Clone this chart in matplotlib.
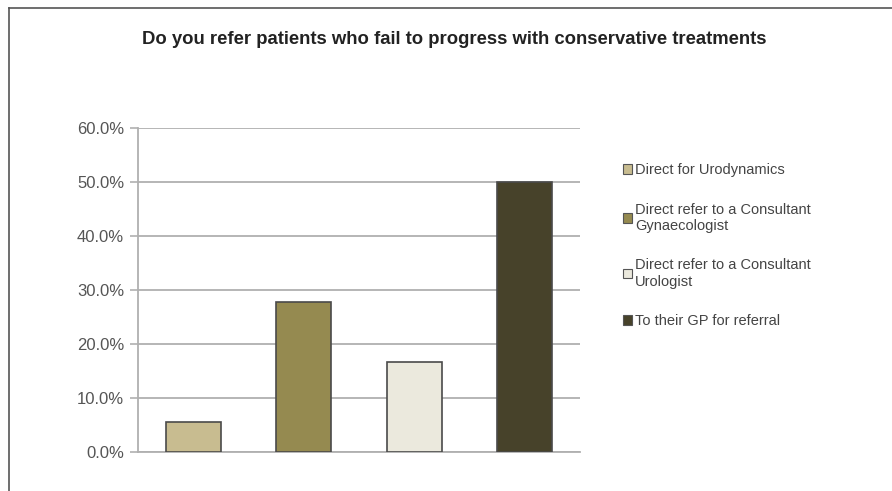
import matplotlib.pyplot as plt
from matplotlib.lines import Line2D
from matplotlib.patches import Patch

plt.rcParams["font.family"] = ["Liberation Sans", "DejaVu Sans"]

title = "Do you refer patients who fail to progress with conservative treatments"
categories = [
    "Direct for Urodynamics",
    "Direct refer to a Consultant\nGynaecologist",
    "Direct refer to a Consultant\nUrologist",
    "To their GP for referral",
]
values = [5.6, 27.8, 16.7, 50.0]
colors = ["#c8bc90", "#958a50", "#ebe9dd", "#47422a"]
yticks = [0, 10, 20, 30, 40, 50, 60]

fig = plt.figure(figsize=(8.92, 4.91), dpi=100)
ax = fig.add_axes([138 / 892, 1 - 452 / 491, 442 / 892, 324 / 491])

x = list(range(len(values)))
ax.bar(x, values, width=0.5, color=colors, edgecolor="#4a4a4a", linewidth=1.2, zorder=3)

ax.set_xlim(-0.5, 3.5)
ax.set_ylim(0, 60)
ax.set_yticks(yticks)
ax.set_yticklabels([f"{v:.1f}%" for v in yticks], fontsize=12, color="#555555")
ax.set_xticks([])
ax.yaxis.grid(True, color="#b0b0b0", linewidth=1.3, zorder=0)
ax.tick_params(axis="y", length=6, width=1.2, color="#b0b0b0", pad=4)
for side in ["top", "right"]:
    ax.spines[side].set_visible(False)
ax.spines["left"].set_color("#b0b0b0")
ax.spines["left"].set_linewidth(1.3)
ax.spines["bottom"].set_color("#b0b0b0")
ax.spines["bottom"].set_linewidth(1.3)

handles = [Patch(facecolor=c, edgecolor="#555555", linewidth=0.8) for c in colors]
fig.legend(handles, categories, loc="upper left", bbox_to_anchor=(610 / 892, 1 - 150 / 491),
           frameon=False, fontsize=10.5, labelcolor="#444444", handlelength=0.6,
           handleheight=0.6, handletextpad=0.2, labelspacing=1.75)

fig.text(454 / 892, 1 - 40 / 491, title, ha="center", va="center",
         fontsize=13.3, fontweight="bold", color="#222222")

# frame of the pasted picture
fig.add_artist(Line2D([9 / 892, 1], [1 - 8 / 491, 1 - 8 / 491], color="#555555", linewidth=1.2))
fig.add_artist(Line2D([9 / 892, 9 / 892], [0, 1 - 8 / 491], color="#555555", linewidth=1.2))

fig.savefig("out.png", dpi=100)
